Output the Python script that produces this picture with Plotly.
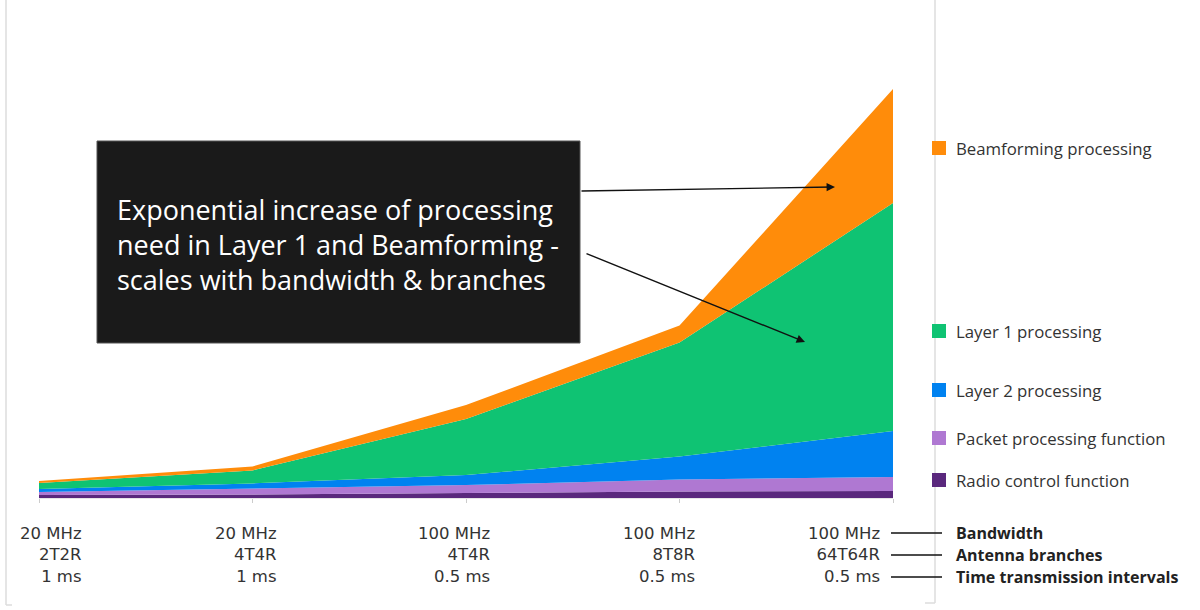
import plotly.graph_objects as go

# ---- data (arbitrary processing units) ----
categories = [0, 1, 2, 3, 4]
bandwidth = ["20 MHz", "20 MHz", "100 MHz", "100 MHz", "100 MHz"]
antennas = ["2T2R", "4T4R", "4T4R", "8T8R", "64T64R"]
tti = ["1 ms", "1 ms", "0.5 ms", "0.5 ms", "0.5 ms"]

radio_control = [0.75, 0.9, 1.25, 1.6, 1.75]
packet_processing = [0.75, 1.5, 2.0, 3.0, 3.5]
layer2 = [0.75, 1.25, 2.5, 5.75, 11.5]
layer1 = [1.5, 3.25, 14.0, 28.5, 57.0]
beamforming = [0.5, 1.0, 3.5, 4.25, 28.5]

series_names = ["Radio control function", "Packet processing function",
                "Layer 2 processing", "Layer 1 processing", "Beamforming processing"]
series_values = [radio_control, packet_processing, layer2, layer1, beamforming]
row_names = ["Bandwidth", "Antenna branches", "Time transmission intervals"]

# ---- styles / layout ----
colors = ["#5A287D", "#AF78D2", "#0082F0", "#0FC373", "#FF8C0A"]
W, H = 1200, 610
L, R, T, B = 39, 307, 20, 112
PW, PH = W - L - R, H - T - B
YMAX = 119.5


def px(xp):  # pixel x -> paper
    return (xp - L) / PW


def py(yp):  # pixel y -> paper
    return (H - B - yp) / PH


def dx(xp):  # pixel x -> data x
    return (xp - L) / PW * 4


def dy(yp):  # pixel y -> data y
    return (H - B - yp) / PH * YMAX


fig = go.Figure()
for name, vals, c in zip(series_names, series_values, colors):
    fig.add_trace(go.Scatter(
        x=categories, y=vals, name=name, mode="lines", stackgroup="one",
        line=dict(width=0, color=c), fillcolor=c, hoverinfo="skip",
        showlegend=False))

shapes = []
annotations = []

# container borders
border = dict(color="#DCDCDC", width=1.5)
shapes.append(dict(type="line", xref="paper", yref="paper", x0=px(6), x1=px(6),
                   y0=py(0), y1=py(605), line=border, layer="below"))
shapes.append(dict(type="line", xref="paper", yref="paper", x0=px(6), x1=px(12),
                   y0=py(605), y1=py(605), line=border, layer="below"))
shapes.append(dict(type="line", xref="paper", yref="paper", x0=px(935), x1=px(935),
                   y0=py(0), y1=py(603), line=border, layer="below"))
shapes.append(dict(type="line", xref="paper", yref="paper", x0=px(925), x1=px(935),
                   y0=py(603), y1=py(603), line=border, layer="below"))

# custom legend
legend_y = {"Beamforming processing": 148, "Layer 1 processing": 331,
            "Layer 2 processing": 390, "Packet processing function": 438,
            "Radio control function": 480}
for name, c in zip(series_names, colors):
    yc = legend_y[name]
    shapes.append(dict(type="rect", xref="paper", yref="paper",
                       x0=px(932), x1=px(946), y0=py(yc - 7), y1=py(yc + 7),
                       fillcolor=c, line=dict(width=0)))
    annotations.append(dict(xref="paper", yref="paper", x=px(954), y=py(yc),
                            xanchor="left", yanchor="middle", showarrow=False,
                            text=name, font=dict(family="Open Sans", size=16.8, color="#333333")))

# x tick labels (right aligned 3-line blocks)
label_shift = [45, 26, 26, 17, -11]
for i, cat in enumerate(categories):
    annotations.append(dict(
        xref="x", yref="paper", x=cat, y=py(555), xshift=label_shift[i],
        xanchor="right", yanchor="middle", align="right", showarrow=False,
        text=f"{bandwidth[i]}<br>{antennas[i]}<br>{tti[i]}",
        font=dict(family="DejaVu Sans", size=16.5, color="#333333")))

# row names with leader lines
for j, rn in enumerate(row_names):
    yy = 533 + 22 * j
    shapes.append(dict(type="line", xref="paper", yref="paper",
                       x0=px(891), x1=px(942), y0=py(yy), y1=py(yy),
                       line=dict(color="#111111", width=1.5)))
    annotations.append(dict(xref="paper", yref="paper", x=px(954), y=py(yy),
                            xanchor="left", yanchor="middle", showarrow=False,
                            text=f"<b>{rn}</b>",
                            font=dict(family="Open Sans", size=16, color="#222222")))

# callout box
shapes.append(dict(type="rect", xref="paper", yref="paper",
                   x0=px(97), x1=px(580), y0=py(343), y1=py(141),
                   fillcolor="#1A1A1A", line=dict(color="#555555", width=1)))
annotations.append(dict(
    xref="paper", yref="paper", x=px(115), y=py(244), xanchor="left", yanchor="middle",
    align="left", showarrow=False,
    text="Exponential increase of processing<br>need in Layer 1 and Beamforming -<br>scales with bandwidth &amp; branches",
    font=dict(family="Open Sans", size=27, color="#FFFFFF")))

# arrows
for (tx, ty), (hx, hy) in [((580, 191), (835, 187)), ((585, 253), (805, 342))]:
    annotations.append(dict(
        xref="x", yref="y", axref="x", ayref="y",
        x=dx(hx), y=dy(hy), ax=dx(tx), ay=dy(ty), text="",
        showarrow=True, arrowhead=2, arrowsize=1.2, arrowwidth=1.4, arrowcolor="#111111"))

fig.update_layout(
    width=W, height=H,
    margin=dict(l=L, r=R, t=T, b=B),
    paper_bgcolor="white", plot_bgcolor="white",
    shapes=shapes, annotations=annotations,
    xaxis=dict(range=[0, 4], showgrid=False, zeroline=False, showticklabels=False,
               tickvals=categories, ticks="outside", ticklen=4, tickcolor="#CCCCCC",
               showline=True, linecolor="#E6E6E6", linewidth=1),
    yaxis=dict(range=[0, YMAX], showgrid=False, zeroline=False, showticklabels=False,
               showline=False),
    showlegend=False,
)

fig.write_html("out.html", config={"displayModeBar": False},
               post_script="document.body.style.margin='0';document.body.style.overflow='hidden';")
